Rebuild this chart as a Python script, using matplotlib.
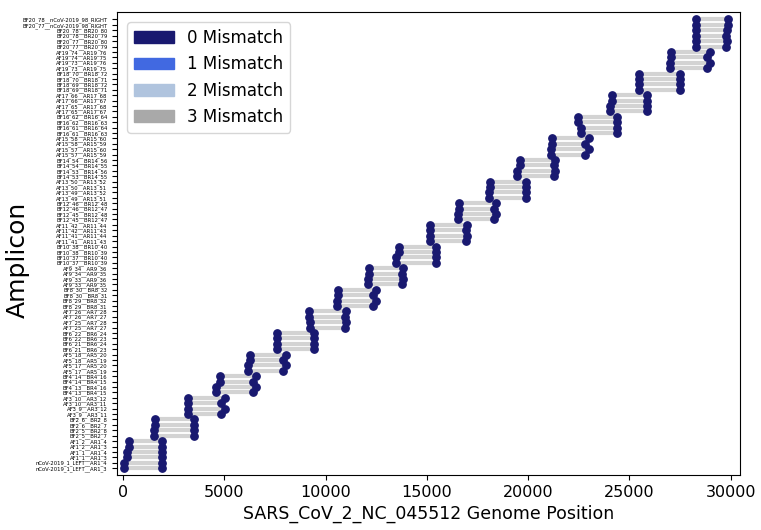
import matplotlib
matplotlib.use("Agg")
import matplotlib.pyplot as plt
from matplotlib.patches import Patch

# amplicon scheme: 20 amplicons, two alternative left and two right primers each
amplicons = list(range(1, 21))
left_a = [180, 1520, 3180, 4600, 6180, 7570, 9230, 10570, 12110, 13480,
          15150, 16540, 18050, 19440, 21150, 22590, 24050, 25470, 27030, 28270]
left_b = [260, 1560, 3220, 4770, 6250, 7600, 9170, 10630, 12120, 13610,
          15170, 16560, 18130, 19620, 21170, 22480, 24130, 25470, 27050, 28300]
right_a = [1900, 3490, 4850, 6430, 7910, 9410, 10950, 12330, 13760, 15430,
           16950, 18300, 19880, 21300, 22830, 24400, 25850, 27480, 28830, 29790]
right_b = [1920, 3490, 5030, 6580, 8020, 9430, 11000, 12500, 13820, 15430,
           16960, 18430, 19900, 21320, 23030, 24410, 25860, 27490, 28960, 29820]

# original ARTIC outer primers
artic_left_name, artic_left_pos = "nCoV-2019_1_LEFT", 30
artic_right_name, artic_right_pos = "nCoV-2019_98_RIGHT", 29880

mismatch_labels = ["0 Mismatch", "1 Mismatch", "2 Mismatch", "3 Mismatch"]
mismatch_colors = ["midnightblue", "royalblue", "lightsteelblue", "darkgray"]

# build rows (label, start, end), bottom to top
rows = []
for i, n in enumerate(amplicons):
    p = "A" if n % 2 else "B"
    lefts = [(f"{p}F{n}_{4*n-3}", left_a[i]), (f"{p}F{n}_{4*n-2}", left_b[i])]
    rights = [(f"{p}R{n}_{4*n-1}", right_a[i]), (f"{p}R{n}_{4*n}", right_b[i])]
    if n == 1:
        lefts = [(artic_left_name, artic_left_pos)] + lefts
    for ln, lp in lefts:
        for rn, rp in rights:
            rows.append((f"{ln}__{rn}", lp, rp))
    if n == 20:
        for ln, lp in lefts:
            rows.append((f"{ln}__{artic_right_name}", lp, artic_right_pos))

labels = [r[0] for r in rows]
starts = [r[1] for r in rows]
ends = [r[2] for r in rows]
ypos = list(range(len(rows)))

fig = plt.figure(figsize=(7.61, 5.30), dpi=100)
ax = fig.add_axes([0.154, 0.104, 0.818, 0.873])

ax.hlines(ypos, starts, ends, color="lightgray", lw=3, zorder=1)
ax.scatter(starts, ypos, color=mismatch_colors[0], s=28, zorder=2)
ax.scatter(ends, ypos, color=mismatch_colors[0], s=28, zorder=2)

ax.set_yticks(ypos)
ax.set_yticklabels(labels, fontsize=3.8)
ax.tick_params(axis="y", length=3.5, width=0.8)
ax.tick_params(axis="x", labelsize=11.5)
ax.set_xticks([0, 5000, 10000, 15000, 20000, 25000, 30000])
ax.set_xlim(-300, 30450)
ax.set_ylim(-1.25, 84.35)
ax.set_xlabel("SARS_CoV_2_NC_045512 Genome Position", fontsize=12.5)
ax.set_ylabel("Amplicon", fontsize=18)
ax.yaxis.set_label_coords(-0.14, 0.465)

handles = [Patch(color=c, label=l) for c, l in zip(mismatch_colors, mismatch_labels)]
ax.legend(handles=handles, loc="upper left", fontsize=12, handlelength=2.4,
          borderaxespad=0.6)

fig.savefig("out.png", dpi=100)
